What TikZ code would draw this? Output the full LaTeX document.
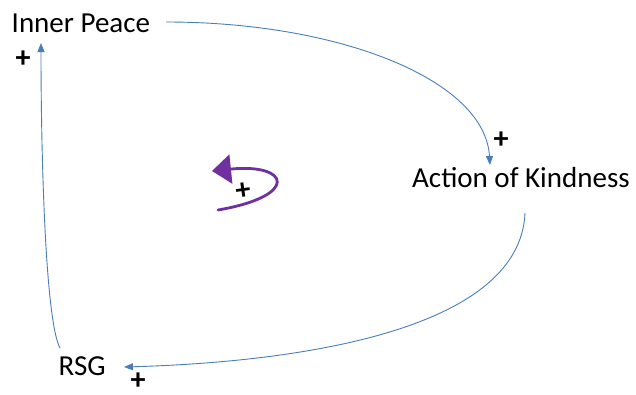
\documentclass[tikz,border=0pt]{standalone}
\usepackage{fontspec}
\setmainfont{Carlito}
\usetikzlibrary{arrows.meta}
\definecolor{linkblue}{HTML}{4A7EBB}
\definecolor{loopviolet}{HTML}{7030A0}
\tikzset{
  varlabel/.style={inner sep=0pt, anchor=base west, font=\fontsize{29}{30}\selectfont},
  polarity/.style={inner sep=0pt, font=\bfseries\fontsize{30}{30}\selectfont},
  link/.style={draw=linkblue, line width=0.9pt, -{Triangle[length=9pt,width=7pt]}},
}
\begin{document}
\begin{tikzpicture}[x=1pt,y=-1pt]
\useasboundingbox (0,0) rectangle (636,394);
% variables
\node[varlabel] (ip) at (11.5,32) {Inner Peace};
\node[varlabel] (ak) at (412,187.5) {Action of Kindness};
\node[varlabel] (rsg) at (58.5,375) {RSG};
% connector end points
\coordinate (ipout) at (166,22);
\coordinate (ipin) at (41,43);
\coordinate (akin) at (490,165);
\coordinate (akout) at (525,213);
\coordinate (rsgin) at (124,367);
\coordinate (rsgout) at (60,348);
% links
\draw[link] (ipout) .. controls (340,22) and (485,80) .. (akin);
\draw[link] (akout) .. controls (520,330) and (300,362) .. (rsgin);
\draw[link] (rsgout) .. controls (45,320) and (41,150) .. (ipin);
% polarities
\node[polarity] (p1) at (23,59) {+};
\node[polarity] (p2) at (501,140) {+};
\node[polarity] (p3) at (138,381) {+};
% loop marker
\coordinate (lstart) at (218,210);
\coordinate (lend) at (212,171);
\draw[draw=loopviolet, line width=2.8pt, line cap=round,
      -{Triangle[length=19pt,width=29pt]}]
  (lstart) .. controls (300,196) and (290,163) .. (lend);
\node[polarity, rotate=8] (p4) at (243,191) {+};
\end{tikzpicture}
\end{document}
